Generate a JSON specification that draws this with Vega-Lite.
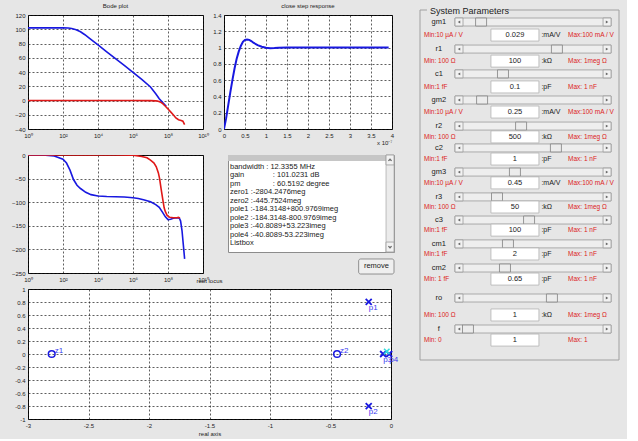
{
  "$schema": "https://vega.github.io/schema/vega-lite/v6.json",
  "background": "#e6e6e6",
  "padding": {"left": 10, "top": 2, "right": 7, "bottom": 2},
  "spacing": 20,
  "config": {
    "font": "Liberation Sans",
    "view": {"stroke": "#000000", "strokeWidth": 1, "fill": "#ffffff"},
    "axis": {"grid": true, "gridColor": "#1a1a1a", "gridDash": [2, 2], "gridWidth": 0.7, "gridOpacity": 1, "ticks": false, "domain": false, "labelFontSize": 6, "labelColor": "#222222", "labelPadding": 3, "labelFont": "Liberation Sans", "titleFontSize": 6, "titleFontWeight": "normal", "titleColor": "#222222", "titleFont": "Liberation Sans", "labelFlush": false, "labelOverlap": false},
    "title": {"fontSize": 6, "fontWeight": "normal", "color": "#222222", "offset": 3, "font": "Liberation Sans"},
    "text": {"font": "Liberation Sans"}
  },
  "datasets": {
    "mag": [
      {"s": "open", "f": 1, "v": 102}, {"s": "open", "f": 10, "v": 102}, {"s": "open", "f": 100, "v": 102}, {"s": "open", "f": 200, "v": 101.7}, {"s": "open", "f": 316, "v": 101}, {"s": "open", "f": 562, "v": 99.3}, {"s": "open", "f": 1000, "v": 96.5}, {"s": "open", "f": 1778, "v": 92.3}, {"s": "open", "f": 3162, "v": 87.5}, {"s": "open", "f": 10000, "v": 78}, {"s": "open", "f": 31623, "v": 68.3}, {"s": "open", "f": 100000, "v": 58.7}, {"s": "open", "f": 316228, "v": 49.2}, {"s": "open", "f": 1000000, "v": 39.6}, {"s": "open", "f": 3162000, "v": 29.5}, {"s": "open", "f": 10000000, "v": 19}, {"s": "open", "f": 19950000, "v": 9.5}, {"s": "open", "f": 31620000, "v": 2.5}, {"s": "open", "f": 50120000, "v": -3}, {"s": "open", "f": 79430000, "v": -8},
      {"s": "closed", "f": 1, "v": 0}, {"s": "closed", "f": 10000, "v": 0}, {"s": "closed", "f": 1000000, "v": 0}, {"s": "closed", "f": 10000000, "v": -0.2}, {"s": "closed", "f": 19950000, "v": -0.5}, {"s": "closed", "f": 25120000, "v": -0.8}, {"s": "closed", "f": 35480000, "v": -2}, {"s": "closed", "f": 50120000, "v": -4.5}, {"s": "closed", "f": 70790000, "v": -8}, {"s": "closed", "f": 100000000, "v": -12}, {"s": "closed", "f": 141300000, "v": -16}, {"s": "closed", "f": 199500000, "v": -20}, {"s": "closed", "f": 281800000, "v": -24.5}, {"s": "closed", "f": 398100000, "v": -27}, {"s": "closed", "f": 562300000, "v": -28}, {"s": "closed", "f": 707900000, "v": -29}, {"s": "closed", "f": 891300000, "v": -34}
    ],
    "phase": [
      {"s": "open", "f": 1, "v": 0}, {"s": "open", "f": 10, "v": -0.6}, {"s": "open", "f": 31.6, "v": -2}, {"s": "open", "f": 100, "v": -9}, {"s": "open", "f": 158.5, "v": -17}, {"s": "open", "f": 251.2, "v": -32}, {"s": "open", "f": 398, "v": -52}, {"s": "open", "f": 631, "v": -64}, {"s": "open", "f": 1000, "v": -71}, {"s": "open", "f": 1995, "v": -79}, {"s": "open", "f": 3981, "v": -84}, {"s": "open", "f": 10000, "v": -87}, {"s": "open", "f": 31623, "v": -88}, {"s": "open", "f": 100000, "v": -88.5}, {"s": "open", "f": 316228, "v": -89}, {"s": "open", "f": 1000000, "v": -90.5}, {"s": "open", "f": 1995000, "v": -92}, {"s": "open", "f": 3981000, "v": -95}, {"s": "open", "f": 10000000, "v": -99}, {"s": "open", "f": 19950000, "v": -105}, {"s": "open", "f": 31620000, "v": -111}, {"s": "open", "f": 50120000, "v": -122}, {"s": "open", "f": 70790000, "v": -131}, {"s": "open", "f": 100000000, "v": -137}, {"s": "open", "f": 141300000, "v": -136}, {"s": "open", "f": 199500000, "v": -134}, {"s": "open", "f": 316200000, "v": -133}, {"s": "open", "f": 446700000, "v": -134}, {"s": "open", "f": 524800000, "v": -140}, {"s": "open", "f": 631000000, "v": -160}, {"s": "open", "f": 707900000, "v": -180}, {"s": "open", "f": 794300000, "v": -200}, {"s": "open", "f": 891300000, "v": -220},
      {"s": "closed", "f": 1, "v": 0}, {"s": "closed", "f": 100000, "v": 0}, {"s": "closed", "f": 1000000, "v": -0.5}, {"s": "closed", "f": 3162000, "v": -3}, {"s": "closed", "f": 6310000, "v": -6}, {"s": "closed", "f": 10000000, "v": -11}, {"s": "closed", "f": 15850000, "v": -17}, {"s": "closed", "f": 21380000, "v": -25}, {"s": "closed", "f": 28180000, "v": -38}, {"s": "closed", "f": 33110000, "v": -50}, {"s": "closed", "f": 39810000, "v": -70}, {"s": "closed", "f": 51290000, "v": -96}, {"s": "closed", "f": 60260000, "v": -112}, {"s": "closed", "f": 70790000, "v": -120}, {"s": "closed", "f": 89130000, "v": -128}, {"s": "closed", "f": 125900000, "v": -132}, {"s": "closed", "f": 199500000, "v": -133}, {"s": "closed", "f": 316200000, "v": -133}, {"s": "closed", "f": 398100000, "v": -132}, {"s": "closed", "f": 478600000, "v": -134}
    ],
    "step": [
      {"t": 0, "y": 0}, {"t": 0.05, "y": 0.13}, {"t": 0.1, "y": 0.29}, {"t": 0.15, "y": 0.45}, {"t": 0.2, "y": 0.6}, {"t": 0.25, "y": 0.74}, {"t": 0.3, "y": 0.86}, {"t": 0.35, "y": 0.95}, {"t": 0.4, "y": 1.02}, {"t": 0.45, "y": 1.07}, {"t": 0.5, "y": 1.095}, {"t": 0.55, "y": 1.1}, {"t": 0.6, "y": 1.095}, {"t": 0.65, "y": 1.08}, {"t": 0.7, "y": 1.06}, {"t": 0.8, "y": 1.03}, {"t": 0.9, "y": 1.01}, {"t": 1.0, "y": 0.998}, {"t": 1.1, "y": 0.993}, {"t": 1.2, "y": 0.995}, {"t": 1.3, "y": 0.999}, {"t": 1.5, "y": 1.0}, {"t": 2, "y": 1.0}, {"t": 3, "y": 1.0}, {"t": 3.92, "y": 1.0}
    ],
    "roots": [
      {"name": "z1", "kind": "zero", "re": -2.8042, "im": 0},
      {"name": "z2", "kind": "zero", "re": -0.4458, "im": 0},
      {"name": "p1", "kind": "pole", "re": -0.1843, "im": 0.801},
      {"name": "p2", "kind": "pole", "re": -0.1843, "im": -0.801},
      {"name": "p3", "kind": "pole", "re": -0.065, "im": 0},
      {"name": "p4", "kind": "pole", "re": -0.015, "im": 0},
      {"name": "", "kind": "cl", "re": -0.035, "im": 0.04}
    ],
    "listbox": [
      {"line": 0, "label": "bandwidth : 12.3355 MHz", "val": ""},
      {"line": 1, "label": "gain", "val": ": 101.0231 dB"},
      {"line": 2, "label": "pm", "val": ": 60.5192 degree"},
      {"line": 3, "label": "zero1 :-2804.2476meg", "val": ""},
      {"line": 4, "label": "zero2 :-445.7524meg", "val": ""},
      {"line": 5, "label": "pole1 :-184.3148+800.9769imeg", "val": ""},
      {"line": 6, "label": "pole2 :-184.3148-800.9769imeg", "val": ""},
      {"line": 7, "label": "pole3 :-40.8089+53.223imeg", "val": ""},
      {"line": 8, "label": "pole4 :-40.8089-53.223imeg", "val": ""},
      {"line": 9, "label": "Listbox", "val": ""}
    ],
    "params": [
      {"name": "gm1", "row": 0, "sub": 0.53, "thumb": 0.307, "value": "0.029", "unit": ":mA/V", "min": "Min:10 µA / V", "max": "Max:100 mA / V"},
      {"name": "r1", "row": 1.1, "sub": 1.59, "thumb": 0.688, "value": "100", "unit": ":kΩ", "min": "Min: 100 Ω", "max": "Max: 1meg Ω"},
      {"name": "c1", "row": 2.11, "sub": 2.64, "thumb": 0.417, "value": "0.1", "unit": ":pF", "min": "Min:1 fF", "max": "Max: 1 nF"},
      {"name": "gm2", "row": 3.17, "sub": 3.66, "thumb": 0.312, "value": "0.25", "unit": ":mA/V", "min": "Min:10 µA / V", "max": "Max:100 mA / V"},
      {"name": "r2", "row": 4.23, "sub": 4.67, "thumb": 0.508, "value": "500", "unit": ":kΩ", "min": "Min: 100 Ω", "max": "Max: 1meg Ω"},
      {"name": "c2", "row": 5.12, "sub": 5.57, "thumb": 0.683, "value": "1", "unit": ":pF", "min": "Min:1 fF", "max": "Max: 1 nF"},
      {"name": "gm3", "row": 6.1, "sub": 6.54, "thumb": 0.477, "value": "0.45", "unit": ":mA/V", "min": "Min:10 µA / V", "max": "Max:100 mA / V"},
      {"name": "r3", "row": 7.11, "sub": 7.52, "thumb": 0.387, "value": "50", "unit": ":kΩ", "min": "Min: 100 Ω", "max": "Max: 1meg Ω"},
      {"name": "c3", "row": 8.05, "sub": 8.46, "thumb": 0.548, "value": "100", "unit": ":pF", "min": "Min:1 fF", "max": "Max: 1 nF"},
      {"name": "cm1", "row": 9.02, "sub": 9.43, "thumb": 0.442, "value": "2", "unit": ":pF", "min": "Min:1 fF", "max": "Max: 1 nF"},
      {"name": "cm2", "row": 10.0, "sub": 10.45, "thumb": 0.427, "value": "0.65", "unit": ":pF", "min": "Min: 1 fF", "max": "Max: 1 nF"},
      {"name": "ro", "row": 11.22, "sub": 11.91, "thumb": 0.663, "value": "1", "unit": ":kΩ", "min": "Min: 100 Ω", "max": "Max: 1meg Ω"},
      {"name": "f", "row": 12.48, "sub": 12.93, "thumb": 0.241, "value": "1", "unit": "", "min": "Min: 0", "max": "Max: 1"}
    ]
  },
  "hconcat": [
    {
      "spacing": -6,
      "vconcat": [
        {
          "spacing": 5,
          "vconcat": [
            {
              "bounds": "flush",
              "spacing": 21,
              "hconcat": [
                {
                  "width": 175, "height": 114,
                  "title": "Bode plot",
                  "data": {"name": "mag"},
                  "mark": {"type": "line", "strokeWidth": 1.6, "clip": true},
                  "encoding": {
                    "x": {"field": "f", "type": "quantitative", "scale": {"type": "log", "domain": [1, 10000000000], "nice": false}, "axis": {"title": null, "values": [1, 100, 10000, 1000000, 100000000, 10000000000], "labelExpr": "'10' + ['⁰','¹','²','³','⁴','⁵','⁶','⁷','⁸','⁹','¹⁰'][round(log(datum.value)/LN10)]"}},
                    "y": {"field": "v", "type": "quantitative", "scale": {"domain": [-40, 120], "nice": false, "zero": false}, "axis": {"title": null, "values": [-40, -20, 0, 20, 40, 60, 80, 100, 120]}},
                    "color": {"field": "s", "type": "nominal", "scale": {"domain": ["open", "closed"], "range": ["#1818e0", "#e01818"]}, "legend": null}
                  }
                },
                {
                  "width": 168, "height": 114,
                  "title": "close step response",
                  "data": {"name": "step"},
                  "mark": {"type": "line", "strokeWidth": 2, "color": "#1818e0", "clip": true},
                  "encoding": {
                    "x": {"field": "t", "type": "quantitative", "scale": {"domain": [0, 4], "nice": false}, "axis": {"title": "x 10⁻⁷", "titleAnchor": "end", "titlePadding": 1, "values": [0, 0.5, 1, 1.5, 2, 2.5, 3, 3.5, 4], "labelExpr": "datum.value + ''"}},
                    "y": {"field": "y", "type": "quantitative", "scale": {"domain": [0, 1.4], "nice": false}, "axis": {"title": null, "values": [0, 0.2, 0.4, 0.6, 0.8, 1, 1.2, 1.4], "labelExpr": "datum.value + ''"}}
                  }
                }
              ]
            },
            {
              "bounds": "flush",
              "spacing": 25,
              "hconcat": [
                {
                  "width": 175, "height": 118,
                  "data": {"name": "phase"},
                  "mark": {"type": "line", "strokeWidth": 1.6, "clip": true},
                  "encoding": {
                    "x": {"field": "f", "type": "quantitative", "scale": {"type": "log", "domain": [1, 10000000000], "nice": false}, "axis": {"title": null, "values": [1, 100, 10000, 1000000, 100000000, 10000000000], "labelExpr": "'10' + ['⁰','¹','²','³','⁴','⁵','⁶','⁷','⁸','⁹','¹⁰'][round(log(datum.value)/LN10)]"}},
                    "y": {"field": "v", "type": "quantitative", "scale": {"domain": [-250, 0], "nice": false, "zero": false}, "axis": {"title": null, "values": [-250, -200, -150, -100, -50, 0]}},
                    "color": {"field": "s", "type": "nominal", "scale": {"domain": ["closed", "open"], "range": ["#e01818", "#1818e0"]}, "legend": null}
                  }
                },
                {
                  "width": 166, "height": 97,
                  "view": {"stroke": "#8c8c8c", "fill": "#ffffff"},
                  "data": {"name": "listbox"},
                  "layer": [
                    {
                      "data": {"values": [{}]},
                      "mark": {"type": "rect", "fill": "#c6c6c6"},
                      "encoding": {
                        "x": {"datum": 0, "type": "quantitative", "scale": {"domain": [0, 1], "nice": false, "zero": false}, "axis": null},
                        "x2": {"datum": 0.952},
                        "y": {"datum": -1.41, "type": "quantitative", "scale": {"domain": [-1.41, 10], "nice": false, "zero": false, "reverse": true}, "axis": null},
                        "y2": {"datum": -0.7}
                      }
                    },
                    {
                      "data": {"values": [{"a": -1.41, "b": 10}]},
                      "mark": {"type": "rect", "fill": "#ebebeb", "stroke": "#b0b0b0", "strokeWidth": 0.8},
                      "encoding": {
                        "x": {"datum": 0.952, "type": "quantitative"},
                        "x2": {"datum": 1},
                        "y": {"field": "a", "type": "quantitative"},
                        "y2": {"field": "b"}
                      }
                    },
                    {
                      "data": {"values": [{"a": -1.41, "b": -0.24}, {"a": 8.83, "b": 10}]},
                      "mark": {"type": "rect", "fill": "#f2f2f2", "stroke": "#9a9a9a", "strokeWidth": 0.8},
                      "encoding": {
                        "x": {"datum": 0.952, "type": "quantitative"},
                        "x2": {"datum": 1},
                        "y": {"field": "a", "type": "quantitative"},
                        "y2": {"field": "b"}
                      }
                    },
                    {
                      "data": {"values": [{"p": -0.82}]},
                      "mark": {"type": "point", "shape": "M-1,0.6L0,-0.5L1,0.6", "size": 10, "filled": false, "stroke": "#333333", "strokeWidth": 1.2},
                      "encoding": {
                        "x": {"datum": 0.976, "type": "quantitative"},
                        "y": {"field": "p", "type": "quantitative"}
                      }
                    },
                    {
                      "data": {"values": [{"p": 9.41}]},
                      "mark": {"type": "point", "shape": "M-1,-0.6L0,0.5L1,-0.6", "size": 10, "filled": false, "stroke": "#333333", "strokeWidth": 1.2},
                      "encoding": {
                        "x": {"datum": 0.976, "type": "quantitative"},
                        "y": {"field": "p", "type": "quantitative"}
                      }
                    },
                    {
                      "mark": {"type": "text", "align": "left", "baseline": "middle", "fontSize": 7.5, "color": "#1a1a1a"},
                      "encoding": {
                        "x": {"datum": 0.012, "type": "quantitative"},
                        "y": {"field": "line", "type": "quantitative"},
                        "text": {"field": "label"}
                      }
                    },
                    {
                      "mark": {"type": "text", "align": "left", "baseline": "middle", "fontSize": 7.5, "color": "#1a1a1a"},
                      "encoding": {
                        "x": {"datum": 0.27, "type": "quantitative"},
                        "y": {"field": "line", "type": "quantitative"},
                        "text": {"field": "val"}
                      }
                    },
                    {
                      "data": {"values": [{"a": 10.82, "b": 12.59}]},
                      "mark": {"type": "rect", "fill": "#efefef", "stroke": "#7a7a7a", "strokeWidth": 0.8, "cornerRadius": 2},
                      "encoding": {
                        "x": {"datum": 0.787, "type": "quantitative"},
                        "x2": {"datum": 1.0},
                        "y": {"field": "a", "type": "quantitative"},
                        "y2": {"field": "b"}
                      }
                    },
                    {
                      "data": {"values": [{"p": 11.7, "t": "remove"}]},
                      "mark": {"type": "text", "align": "center", "baseline": "middle", "fontSize": 7.5, "color": "#1a1a1a"},
                      "encoding": {
                        "x": {"datum": 0.894, "type": "quantitative"},
                        "y": {"field": "p", "type": "quantitative"},
                        "text": {"field": "t"}
                      }
                    }
                  ]
                }
              ]
            }
          ]
        },
        {
          "width": 363, "height": 130,
          "title": {"text": "root locus", "offset": 2},
          "data": {"name": "roots"},
          "encoding": {
            "x": {"field": "re", "type": "quantitative", "scale": {"domain": [-3, 0], "nice": false, "zero": false}, "axis": {"title": "real axis", "titlePadding": 2, "values": [-3, -2.5, -2, -1.5, -1, -0.5, 0], "labelExpr": "datum.value + ''"}},
            "y": {"field": "im", "type": "quantitative", "scale": {"domain": [-1, 1], "nice": false, "zero": false}, "axis": {"title": null, "values": [-1, -0.8, -0.6, -0.4, -0.2, 0, 0.2, 0.4, 0.6, 0.8, 1], "labelExpr": "datum.value + ''"}}
          },
          "layer": [
            {
              "transform": [{"filter": "datum.kind == 'zero'"}],
              "mark": {"type": "point", "shape": "circle", "size": 45, "filled": false, "strokeWidth": 1.5, "color": "#1818e0", "opacity": 1}
            },
            {
              "transform": [{"filter": "datum.kind == 'pole'"}],
              "mark": {"type": "point", "shape": "M-1,-1L1,1M-1,1L1,-1", "size": 36, "filled": false, "strokeWidth": 1.8, "color": "#1818e0", "opacity": 1}
            },
            {
              "transform": [{"filter": "datum.kind == 'cl'"}],
              "mark": {"type": "point", "shape": "M-1,-1L1,1M-1,1L1,-1", "size": 30, "filled": false, "strokeWidth": 1.5, "color": "#33dddd", "opacity": 1}
            },
            {
              "transform": [{"filter": "datum.kind == 'zero'"}],
              "mark": {"type": "text", "align": "left", "baseline": "bottom", "dx": 3, "dy": 1, "fontSize": 8, "color": "#3a3af0"},
              "encoding": {"text": {"field": "name"}}
            },
            {
              "transform": [{"filter": "datum.kind == 'pole'"}],
              "mark": {"type": "text", "align": "left", "baseline": "top", "dx": 0, "dy": 2, "fontSize": 8, "color": "#3a3af0"},
              "encoding": {"text": {"field": "name"}}
            }
          ]
        }
      ]
    },
    {
      "width": 199, "height": 345,
      "view": {"stroke": null, "fill": null},
      "data": {"name": "params"},
      "layer": [
        {
          "data": {"values": [{}]},
          "mark": {"type": "rect", "fill": "transparent", "stroke": "#a0a0a0", "strokeWidth": 1},
          "encoding": {
            "x": {"datum": 0, "type": "quantitative", "scale": {"domain": [0, 1], "nice": false, "zero": false}, "axis": null},
            "x2": {"datum": 1},
            "y": {"datum": -0.488, "type": "quantitative", "scale": {"domain": [-0.285, 13.74], "nice": false, "zero": false, "reverse": true}, "axis": null},
            "y2": {"datum": 13.74}
          }
        },
        {
          "data": {"values": [{}]},
          "mark": {"type": "rect", "fill": "#e6e6e6"},
          "encoding": {
            "x": {"datum": 0.035, "type": "quantitative"},
            "x2": {"datum": 0.44},
            "y": {"datum": -0.7, "type": "quantitative"},
            "y2": {"datum": -0.25}
          }
        },
        {
          "data": {"values": [{"t": "System Parameters"}]},
          "mark": {"type": "text", "align": "left", "baseline": "middle", "fontSize": 9, "color": "#222222"},
          "encoding": {
            "x": {"datum": 0.05, "type": "quantitative"},
            "y": {"datum": -0.447, "type": "quantitative"},
            "text": {"field": "t"}
          }
        },
        {
          "mark": {"type": "point", "shape": "M-19.5,-1H19.5V1H-19.5Z", "size": 64, "filled": true, "fill": "#eeeeee", "stroke": "#9a9a9a", "strokeWidth": 0.8, "opacity": 1},
          "encoding": {
            "x": {"datum": 0.568, "type": "quantitative"},
            "y": {"field": "row", "type": "quantitative"}
          }
        },
        {
          "mark": {"type": "point", "shape": "M-1,-1H1V1H-1Z", "size": 64, "filled": true, "fill": "#f2f2f2", "stroke": "#9a9a9a", "strokeWidth": 0.8, "opacity": 1},
          "encoding": {
            "x": {"datum": 0.196, "type": "quantitative"},
            "y": {"field": "row", "type": "quantitative"}
          }
        },
        {
          "mark": {"type": "point", "shape": "M-1,-1H1V1H-1Z", "size": 64, "filled": true, "fill": "#f2f2f2", "stroke": "#9a9a9a", "strokeWidth": 0.8, "opacity": 1},
          "encoding": {
            "x": {"datum": 0.94, "type": "quantitative"},
            "y": {"field": "row", "type": "quantitative"}
          }
        },
        {
          "mark": {"type": "point", "shape": "triangle-left", "size": 8, "filled": true, "fill": "#666666", "stroke": null, "opacity": 1},
          "encoding": {
            "x": {"datum": 0.196, "type": "quantitative"},
            "y": {"field": "row", "type": "quantitative"}
          }
        },
        {
          "mark": {"type": "point", "shape": "triangle-right", "size": 8, "filled": true, "fill": "#666666", "stroke": null, "opacity": 1},
          "encoding": {
            "x": {"datum": 0.94, "type": "quantitative"},
            "y": {"field": "row", "type": "quantitative"}
          }
        },
        {
          "mark": {"type": "point", "shape": "M-1.375,-1H1.375V1H-1.375Z", "size": 64, "filled": true, "fill": "#ececec", "stroke": "#808080", "strokeWidth": 0.8, "opacity": 1},
          "encoding": {
            "x": {"field": "thumb", "type": "quantitative"},
            "y": {"field": "row", "type": "quantitative"}
          }
        },
        {
          "mark": {"type": "text", "align": "center", "baseline": "middle", "fontSize": 7.5, "color": "#1a1a1a"},
          "encoding": {
            "x": {"datum": 0.095, "type": "quantitative"},
            "y": {"field": "row", "type": "quantitative"},
            "text": {"field": "name"}
          }
        },
        {
          "mark": {"type": "point", "shape": "M-4,-1H4V1H-4Z", "size": 144, "filled": true, "fill": "#ffffff", "stroke": "#b4b4b4", "strokeWidth": 0.8, "opacity": 1},
          "encoding": {
            "x": {"datum": 0.477, "type": "quantitative"},
            "y": {"field": "sub", "type": "quantitative"}
          }
        },
        {
          "mark": {"type": "text", "align": "center", "baseline": "middle", "fontSize": 7.5, "color": "#1a1a1a"},
          "encoding": {
            "x": {"datum": 0.477, "type": "quantitative"},
            "y": {"field": "sub", "type": "quantitative"},
            "text": {"field": "value"}
          }
        },
        {
          "mark": {"type": "text", "align": "left", "baseline": "middle", "fontSize": 7, "color": "#1a1a1a"},
          "encoding": {
            "x": {"datum": 0.61, "type": "quantitative"},
            "y": {"field": "sub", "type": "quantitative"},
            "text": {"field": "unit"}
          }
        },
        {
          "mark": {"type": "text", "align": "left", "baseline": "middle", "fontSize": 6.5, "color": "#dd2222"},
          "encoding": {
            "x": {"datum": 0.02, "type": "quantitative"},
            "y": {"field": "sub", "type": "quantitative"},
            "text": {"field": "min"}
          }
        },
        {
          "mark": {"type": "text", "align": "left", "baseline": "middle", "fontSize": 6.5, "color": "#dd2222"},
          "encoding": {
            "x": {"datum": 0.744, "type": "quantitative"},
            "y": {"field": "sub", "type": "quantitative"},
            "text": {"field": "max"}
          }
        }
      ]
    }
  ]
}
